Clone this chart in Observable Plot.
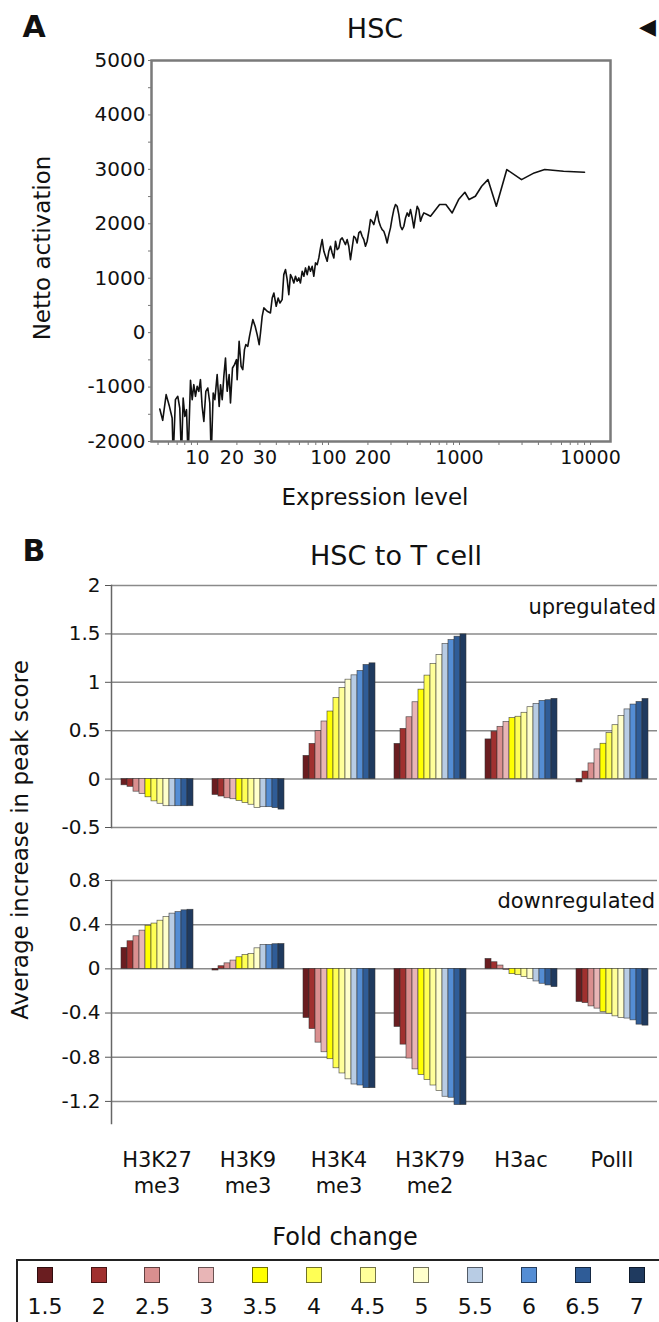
<!DOCTYPE html>
<html>
<head>
<meta charset="utf-8">
<script src="https://cdn.jsdelivr.net/npm/d3@7"></script>
<script src="https://cdn.jsdelivr.net/npm/@observablehq/plot@0.6"></script>
<style>
  body { margin: 0; background: #fff; font-family: "DejaVu Sans", sans-serif; color: #111; }
  #root { position: relative; width: 659px; height: 1322px; overflow: hidden; background: #fff; }
  .abs { position: absolute; white-space: nowrap; line-height: 1; }
  .layer { position: absolute; left: 0; }
  .legend { position: absolute; left: 16px; top: 1259px; width: 700px; height: 90px; border: 2px solid #222; display: flex; }
  .item { width: 53.8px; display: flex; flex-direction: column; align-items: center; }
  .sw { width: 16px; height: 16px; margin-top: 6px; box-sizing: border-box; border: 1px solid rgba(0,0,0,0.55); }
  .lab { font-size: 22px; line-height: 1; margin-top: 13px; }
</style>
</head>
<body>
<div id="root"></div>
<script>
// ---------- Panel A data ----------
const exprLevel = [5.16,5.43,5.77,6.11,6.41,6.53,6.79,7.08,7.33,7.55,7.78,8.01,8.25,8.49,8.85,9.12,9.38,9.66,9.95,10.24,10.54,10.86,11.19,11.59,12.0,12.42,12.73,13.19,13.58,14.14,14.65,15.0,15.45,15.9,16.37,16.86,17.46,17.87,18.51,19.17,19.86,20.09,20.8,21.54,22.18,22.85,23.39,24.22,24.95,25.7,26.47,27.56,28.56,29.58,30.28,31.19,32.13,34.06,36.06,37.2,38.3,39.9,41.3,42.6,44.3,45.6,47.0,48.4,49.8,51.3,52.8,54.4,56.0,57.7,59.4,61.1,63.0,64.9,66.8,68.8,70.8,72.9,75.1,77.3,79.6,82.0,84.4,86.9,89.5,92.2,94.9,97.7,100.6,103.6,106.7,109.9,113.1,116.5,119.9,123.5,127.2,130.9,134.8,138.9,142.9,147.2,151.6,156.1,160.7,165.5,170.4,175.4,180.7,186.1,191.6,197.3,203.2,209.2,215.4,221.8,228.4,235.2,242.2,249.4,256.8,264.4,272.3,280.4,288.7,297.3,306.2,315.3,324.7,334.3,344.3,354.5,365.1,375.9,387.1,398.7,410.5,422.7,435.3,448.2,461.5,475.3,489.4,504.0,519.0,534.4,566.7,600.8,705,787,879,984,1099,1183,1321,1476,1648,1910,2296,2974,3715,4467,6223,8995];
const nettoActivation = [-1403,-1611,-1139,-1354,-1568,-2300,-1231,-1170,-1385,-2300,-1201,-1538,-1415,-2300,-876,-1231,-956,-1170,-986,-1078,-864,-1354,-1630,-1078,-1017,-1293,-2300,-1109,-1231,-772,-1354,-956,-1231,-803,-465,-1078,-772,-1293,-649,-588,-496,-864,-159,-619,-680,-312,-220,-251,-67,86,239,117,-37,-220,-6,300,454,392,362,637,729,484,637,545,607,1066,1158,974,699,1066,1005,913,1036,944,1005,913,1127,1036,1189,1066,1219,1127,1219,1036,1281,1250,1373,1556,1710,1495,1403,1311,1495,1587,1464,1373,1679,1526,1556,1710,1740,1679,1618,1710,1587,1342,1556,1771,1740,1648,1832,1863,1771,1710,1587,1679,1863,2077,2046,1985,2108,2230,2046,1955,1893,1863,1771,1648,1801,1924,2108,2261,2353,2322,2169,1955,1893,1955,2108,2200,2138,2261,2108,1924,2138,2322,2261,2046,2138,2200,2169,2138,2353,2353,2200,2445,2579,2445,2506,2690,2812,2322,2996,2812,2935,2996,2965,2946];
const xTicksMain = [10, 100, 1000, 10000];
const xTicksLow = [20];
const xTicksHigh = [30, 200];
const xMinorA = [5,6,7,8,9,10,20,30,40,50,60,70,80,90,100,200,300,400,500,600,700,800,900,1000,2000,3000,4000,5000,6000,7000,8000,9000,10000];
const yTicksA = [-2000, -1000, 0, 1000, 2000, 3000, 4000, 5000];
const yMinorA = [-2000,-1500,-1000,-500,0,500,1000,1500,2000,2500,3000,3500,4000,4500,5000];

// ---------- Panel B data ----------
const groups = ["H3K27\nme3", "H3K9\nme3", "H3K4\nme3", "H3K79\nme2", "H3ac", "PolII"];
const folds = ["1.5","2","2.5","3","3.5","4","4.5","5","5.5","6","6.5","7"];
const foldColors = ["#6a1d20","#a0302f","#da8f8f","#e8b5b6","#ffff00","#ffff55","#ffff99","#ffffcc","#b8cce4","#548dd4","#2f5c97","#1f3a5f"];

const upK27me3 = [-0.064,-0.08,-0.13,-0.154,-0.188,-0.23,-0.255,-0.28,-0.28,-0.28,-0.28,-0.28];
const upK9me3  = [-0.164,-0.18,-0.198,-0.208,-0.225,-0.248,-0.265,-0.3,-0.29,-0.29,-0.3,-0.315];
const upK4me3  = [0.24,0.364,0.495,0.595,0.698,0.838,0.942,1.027,1.072,1.117,1.179,1.196];
const upK79me2 = [0.364,0.519,0.639,0.794,0.924,1.069,1.189,1.282,1.395,1.436,1.471,1.495];
const upH3ac   = [0.41,0.49,0.54,0.59,0.63,0.644,0.685,0.743,0.777,0.808,0.815,0.829];
const upPolII  = [-0.034,0.078,0.162,0.307,0.365,0.476,0.557,0.652,0.72,0.77,0.797,0.828];

const downK27me3 = [0.19,0.25,0.295,0.346,0.39,0.41,0.436,0.47,0.5,0.514,0.53,0.535];
const downK9me3  = [-0.015,0.024,0.05,0.075,0.105,0.126,0.135,0.186,0.217,0.217,0.223,0.225];
const downK4me3  = [-0.445,-0.545,-0.668,-0.755,-0.818,-0.9,-0.947,-1.0,-1.047,-1.056,-1.08,-1.08];
const downK79me2 = [-0.526,-0.686,-0.812,-0.91,-0.96,-1.007,-1.056,-1.107,-1.158,-1.167,-1.233,-1.233];
const downH3ac   = [0.09,0.06,0.03,-0.01,-0.048,-0.057,-0.075,-0.093,-0.114,-0.135,-0.15,-0.165];
const downPolII  = [-0.3,-0.31,-0.34,-0.36,-0.39,-0.406,-0.43,-0.445,-0.45,-0.466,-0.505,-0.514];

const upTicks = [-0.5, 0, 0.5, 1, 1.5, 2];
const downTicks = [-1.2, -0.8, -0.4, 0, 0.4, 0.8];

// ---------- build tables ----------
const lineData = exprLevel.map((x, i) => ({x, y: nettoActivation[i]}));
function table(series) {
  const rows = [];
  series.forEach((vals, gi) => vals.forEach((v, fi) => rows.push({group: groups[gi], fold: folds[fi], value: v})));
  return rows;
}
const upData = table([upK27me3, upK9me3, upK4me3, upK79me2, upH3ac, upPolII]);
const downData = table([downK27me3, downK9me3, downK4me3, downK79me2, downH3ac, downPolII]);

const root = document.getElementById("root");
const FONT = "'DejaVu Sans', sans-serif";

function place(node, top) {
  const d = document.createElement("div");
  d.className = "layer";
  d.style.top = top + "px";
  d.appendChild(node);
  root.appendChild(d);
}
function label(text, o) {
  const d = document.createElement("div");
  d.className = "abs";
  d.textContent = text;
  d.style.fontSize = o.size + "px";
  if (o.weight) d.style.fontWeight = o.weight;
  if (o.rotate) {
    d.style.left = o.x + "px";
    d.style.top = o.y + "px";
    d.style.transform = "translate(-50%,-50%) rotate(-90deg)";
  } else {
    d.style.top = (o.baseline - 0.846 * o.size) + "px";
    d.style.left = o.x + "px";
    const tx = o.anchor === "end" ? "-100%" : o.anchor === "start" ? "0" : "-50%";
    d.style.transform = `translateX(${tx})`;
  }
  root.appendChild(d);
}

// ---------- Panel A ----------
const tickText = {text: d => String(d), frameAnchor: "bottom", lineAnchor: "top", dy: 9, fontSize: 19, fill: "#111"};
const plotA = Plot.plot({
  width: 659, height: 520,
  marginTop: 60, marginBottom: 79, marginLeft: 151, marginRight: 49,
  style: {fontFamily: FONT, fontSize: "20px", background: "transparent", color: "#111", overflow: "visible"},
  x: {type: "log", domain: [4.46, 14200]},
  y: {domain: [-2000, 5000]},
  marks: [
    Plot.axisY(yMinorA, {tickSize: 3, tickFormat: () => "", label: null, stroke: "#777"}),
    Plot.axisY(yTicksA, {tickSize: 0, tickPadding: 6, tickFormat: d => String(d), label: null}),
    Plot.axisX(xMinorA, {tickSize: 4, tickFormat: () => "", label: null, stroke: "#777"}),
    Plot.text(xTicksMain, {x: d => d, ...tickText}),
    Plot.text(xTicksLow, {x: d => d, ...tickText, dx: -5}),
    Plot.text(xTicksHigh, {x: d => d, ...tickText, dx: 5}),
    Plot.line(lineData, {x: "x", y: "y", stroke: "#111", strokeWidth: 1.6, clip: true}),
    Plot.frame({stroke: "#7a7a7a", strokeWidth: 2.5})
  ]
});
place(plotA, 0);

// ---------- Panel B ----------
function barPlot(data, ticks, domain, opts) {
  return Plot.plot({
    width: 659, height: opts.height,
    marginTop: 10, marginBottom: opts.marginBottom, marginLeft: 109, marginRight: 1,
    style: {fontFamily: FONT, fontSize: "20px", background: "transparent", color: "#111", overflow: "visible"},
    fx: {domain: groups, padding: 0, label: null, axis: null},
    x: {domain: folds, paddingInner: 0, paddingOuter: 0.75, axis: null},
    y: {domain},
    color: {domain: folds, range: foldColors},
    marks: [
      Plot.gridY(ticks, {stroke: "#8a8a8a", strokeOpacity: 1, strokeWidth: 1.5}),
      Plot.barY(data, {fx: "group", x: "fold", y: "value", fill: "fold", stroke: "#333", strokeWidth: 0.7, strokeOpacity: 0.8}),
      Plot.axisY(ticks, {tickSize: 6, tickPadding: 5, tickFormat: d => String(d), label: null, stroke: "#555"}),
      Plot.frame({anchor: "left", facetAnchor: "left", stroke: "#666", strokeWidth: 1.5}),
      ...(opts.fxAxis ? [Plot.axisFx({anchor: "bottom", tickSize: 0, tickPadding: 25, fontSize: 21, lineHeight: 1.25, label: null})] : [])
    ]
  });
}
place(barPlot(upData, upTicks, [-0.5, 2], {height: 254, marginBottom: 2, fxAxis: false}), 575);
place(barPlot(downData, downTicks, [-1.4, 0.8], {height: 333, marginBottom: 80, fxAxis: true}), 870);

// ---------- texts ----------
label("A", {x: 34, baseline: 37, size: 30, weight: "bold"});
label("HSC", {x: 375, baseline: 38, size: 27});
label("\u25C0", {x: 639, baseline: 35, size: 22, anchor: "start"});
label("Netto activation", {x: 42, y: 248, size: 23, rotate: true});
label("Expression level", {x: 375, baseline: 505, size: 23});
label("B", {x: 34, baseline: 561, size: 30, weight: "bold"});
label("HSC to T cell", {x: 396, baseline: 565, size: 27});
label("upregulated", {x: 656, baseline: 615, size: 21, anchor: "end"});
label("downregulated", {x: 655, baseline: 909, size: 21, anchor: "end"});
label("Average increase in peak score", {x: 20, y: 840, size: 23, rotate: true});
label("Fold change", {x: 345, baseline: 1245, size: 24});

// ---------- legend ----------
const legend = document.createElement("div");
legend.className = "legend";
folds.forEach((f, i) => {
  const it = document.createElement("div");
  it.className = "item";
  const sw = document.createElement("div");
  sw.className = "sw";
  sw.style.background = foldColors[i];
  const lb = document.createElement("div");
  lb.className = "lab";
  lb.textContent = f;
  it.appendChild(sw); it.appendChild(lb);
  legend.appendChild(it);
});
root.appendChild(legend);
</script>
</body>
</html>
